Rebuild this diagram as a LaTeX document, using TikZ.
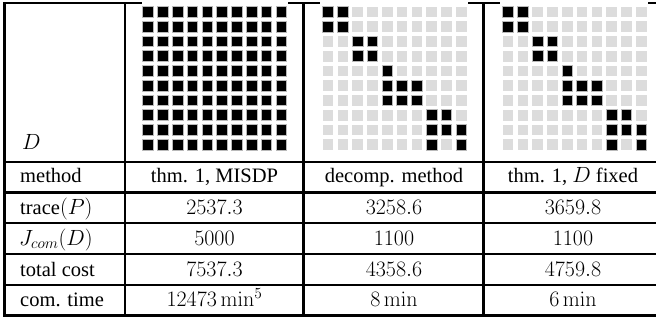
\RequirePackage{fix-cm}
\documentclass[tikz,border=0pt]{standalone}
\usepackage[no-math]{fontspec}
\setmainfont{Liberation Serif}
\newcommand{\mbig}[1]{{\fontsize{22}{24}\selectfont$#1$}}
\begin{document}
\begin{tikzpicture}[x=1pt,y=-1pt,
  rule/.style={line width=2.2pt,line cap=rect},
  txt/.style={anchor=base,inner sep=0pt,font=\fontsize{20.5}{22}\selectfont},
  num/.style={txt,font=\fontsize{22}{24}\selectfont},
  lbl/.style={txt,anchor=base west},
  on/.style={fill=black,draw=gray!55,line width=0.8pt}]
\useasboundingbox (0,0) rectangle (656,320);
\definecolor{lightsq}{HTML}{DCDCDC}
% table rules
\begin{scope}
\clip (0,0) rectangle (656,320);
\foreach \y in {3,162,192.5,223,254,285,315.5}
  \draw[rule] (4.5,\y) -- (670,\y);
\foreach \x in {4.5,125,303.5,483.5}
  \draw[rule] (\x,3) -- (\x,315.5);
\end{scope}
% white backgrounds of the pictures over the top rule
\fill[white] (141.7,0) rectangle (288.3,7);
\fill[white] (320,0) rectangle (468,7);
\fill[white] (500,0) rectangle (648,7);
% grid 1: all entries
\foreach \i in {0,...,9}
  \foreach \j in {0,...,9}
    \draw[on] ({142.7+\j*14.8},{6.7+\i*14.73}) rectangle ++(10.7,10.7);
% grids 2 and 3: block pattern
\foreach \x in {322.7,502.7}{
  \foreach \i in {0,...,9}
    \foreach \j in {0,...,9}
      \fill[lightsq] ({\x+\j*14.8},{6.7+\i*14.73}) rectangle ++(10.7,10.7);
  \foreach \i/\j in {0/0,0/1,1/0,1/1,2/2,2/3,3/2,3/3,4/4,5/4,5/5,5/6,6/4,6/5,6/6,7/7,7/8,8/7,8/8,8/9,9/7,9/9}
    \draw[on] ({\x+\j*14.8},{6.7+\i*14.73}) rectangle ++(10.7,10.7);
}
% header label
\node[lbl] (hd) at (22,150) {\mbig{D}};
% row labels
\node[lbl] (r1) at (20,183) {method};
\node[lbl] (r2) at (20,214.5) {trace\mbig{(P)}};
\node[lbl] (r3) at (19,245.5) {\mbig{J_{com}(D)}};
\node[lbl] (r4) at (20,276.5) {total cost};
\node[lbl] (r5) at (20,307) {com. time};
% column headers
\node[txt] (m1) at (214.5,183) {thm. 1, MISDP};
\node[txt] (m2) at (394,183) {decomp. method};
\node[txt] (m3) at (573,183) {thm. 1, \mbig{D} fixed};
% values
\node[num] (a1) at (214.5,214.5) {$2537.3$};
\node[num] (a2) at (394,214.5) {$3258.6$};
\node[num] (a3) at (573,214.5) {$3659.8$};
\node[num] (b1) at (214.5,245.5) {$5000$};
\node[num] (b2) at (394,245.5) {$1100$};
\node[num] (b3) at (573,245.5) {$1100$};
\node[num] (c1) at (214.5,276.5) {$7537.3$};
\node[num] (c2) at (394,276.5) {$4358.6$};
\node[num] (c3) at (573,276.5) {$4759.8$};
\node[num] (d1) at (214.5,307) {$12473\,\mathrm{min}^5$};
\node[num] (d2) at (394,307) {$8\,\mathrm{min}$};
\node[num] (d3) at (573,307) {$6\,\mathrm{min}$};
\end{tikzpicture}
\end{document}
